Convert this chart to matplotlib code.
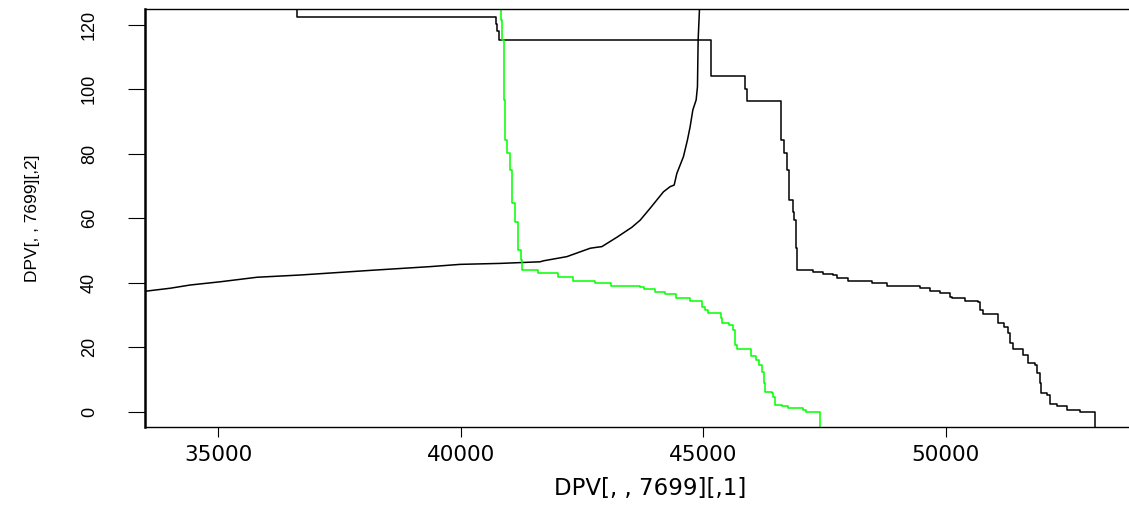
import numpy as np
import matplotlib.pyplot as plt

# rising (supply-like) curve, black
supply_x = [33300, 34017, 34429, 35047, 35803, 36696, 38206, 39374, 39992, 40816,
            41640, 41708, 42190, 42670, 42808, 42911, 43220, 43529, 43700, 43906,
            44180, 44318, 44401, 44456, 44592, 44675, 44730, 44786, 44854, 44881,
            44895, 44922, 44926]
supply_y = [37.0, 38.3, 39.3, 40.3, 41.7, 42.4, 43.9, 45.0, 45.7, 46.0,
            46.5, 46.8, 48.1, 50.7, 51.0, 51.2, 54.1, 57.2, 59.4, 63.1,
            68.2, 69.8, 70.3, 73.9, 79.1, 84.3, 88.4, 93.6, 96.7, 100.8,
            115.3, 124.6, 130]

# falling step curve, black
demand_x = [36628, 36628, 40734, 40760, 40781, 45163, 45863, 45898, 46605, 46667,
            46735, 46776, 46846, 46879, 46908, 46941, 47264, 47470, 47676, 47753,
            47991, 48474, 48783, 49469, 49675, 49881, 50087, 50122, 50396, 50670,
            50705, 50773, 51082, 51199, 51288, 51323, 51391, 51597, 51700, 51838,
            51873, 51941, 51955, 52079, 52147, 52285, 52491, 52765, 53074]
demand_y = [130, 122.3, 120.4, 118.0, 115.3, 104.1, 100.0, 96.3, 84.3, 80.1,
            74.9, 65.6, 62.0, 59.4, 50.8, 43.9, 43.4, 42.7, 42.4, 41.4,
            40.5, 40.0, 39.1, 38.3, 37.5, 36.7, 35.7, 35.2, 34.4, 33.9,
            31.5, 30.3, 27.4, 26.4, 24.5, 21.2, 19.3, 17.6, 15.2, 14.5,
            11.9, 8.8, 5.9, 5.2, 2.4, 1.8, 0.5, 0.0, -10]

# falling step curve, green
green_x = [40830, 40830, 40857, 40884, 40898, 40919, 40954, 41008, 41063, 41125,
           41187, 41242, 41263, 41599, 42011, 42320, 42773, 43103, 43700, 43783,
           44009, 44215, 44442, 44730, 44971, 45039, 45101, 45369, 45390, 45534,
           45616, 45657, 45699, 45987, 46090, 46152, 46214, 46255, 46276, 46420,
           46440, 46482, 46626, 46749, 47058, 47120, 47409]
green_y = [130, 121.5, 115.3, 100.1, 96.7, 84.3, 80.2, 74.9, 64.7, 58.8,
           50.1, 47.0, 43.9, 42.9, 41.9, 40.5, 39.8, 39.1, 38.6, 38.1,
           37.0, 36.5, 35.2, 34.3, 32.5, 31.5, 30.5, 29.1, 27.4, 26.9,
           25.3, 20.7, 19.3, 17.3, 16.0, 14.5, 12.4, 8.8, 6.2, 5.7,
           4.7, 2.1, 1.8, 1.1, 0.5, 0.0, -10]

x_ticks = [35000, 40000, 45000, 50000]
y_ticks = [0, 20, 40, 60, 80, 100, 120]

fig = plt.figure(figsize=(11.29, 5.07), dpi=100)
# plot region runs past the right edge of the picture
ax = fig.add_axes([145 / 1129, 80 / 507, 1010 / 1129, 418 / 507])

ax.plot(supply_x, supply_y, color='black', lw=1.1)
ax.plot(demand_x, demand_y, color='black', lw=1.1, drawstyle='steps-post')
ax.plot(green_x, green_y, color='#00ff00', lw=1.1, drawstyle='steps-post')

ax.set_xlim(33496, 54310)
ax.set_ylim(-4.74, 124.9)

ax.set_xticks(x_ticks)
ax.set_yticks(y_ticks)
ax.set_xticklabels([str(v) for v in x_ticks], family='DejaVu Sans', fontsize=15.5)
ax.set_yticklabels([str(v) for v in y_ticks], rotation=90, va='center',
                   family=['Liberation Sans Narrow', 'Liberation Sans'], fontsize=13)
ax.tick_params(axis='x', length=7.2, width=0.8, pad=6)
ax.tick_params(axis='y', length=12, width=0.8, pad=22)

for side in ['top', 'bottom']:
    ax.spines[side].set_linewidth(1.0)
ax.spines['left'].set_linewidth(1.8)

ax.set_xlabel('DPV[, , 7699][,1]', family='DejaVu Sans', fontsize=16.5, va='top')
ax.xaxis.set_label_coords(0.5, -0.12)
ax.set_ylabel('DPV[, , 7699][,2]', family=['Liberation Sans Narrow', 'Liberation Sans'],
              fontsize=12.5)
ax.yaxis.set_label_coords(-0.104, 0.5)

fig.savefig('out.png', dpi=100)
